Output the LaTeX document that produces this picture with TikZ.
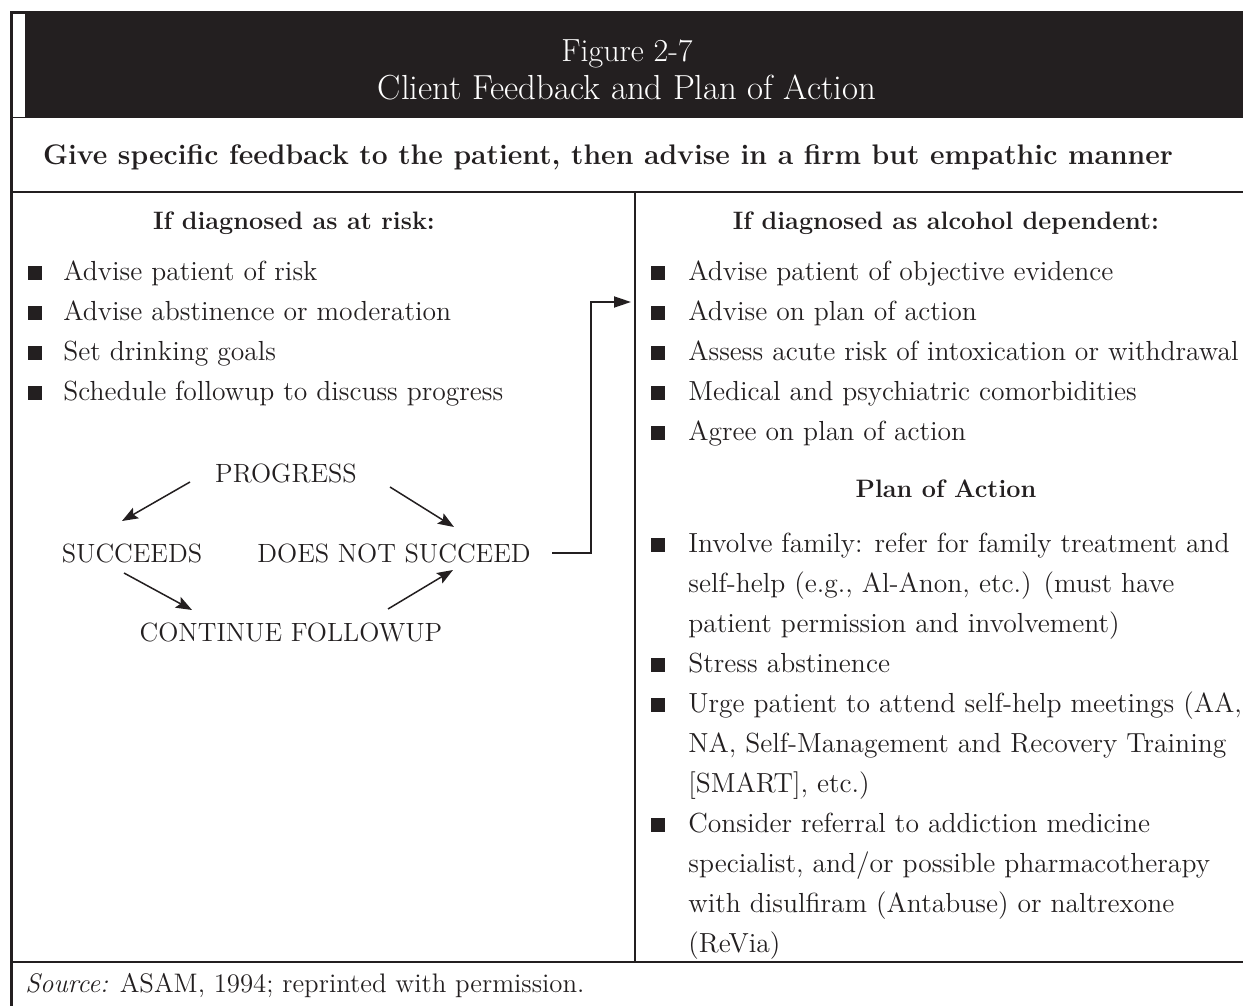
\documentclass[tikz,border=0pt]{standalone}
\usetikzlibrary{arrows.meta, positioning, calc}
\definecolor{ink}{HTML}{231F20}
\newcommand{\bodyfont}{\fontsize{13.8}{20}\selectfont}

\begin{document}
\begin{tikzpicture}[
		x=0.5pt, y=-0.5pt,
		>=Stealth,
		frameline/.style={draw=ink, line width=1.1pt},
		figtitle/.style={text=white, font=\fontsize{17.4}{20}\selectfont, inner sep=0pt, anchor=base},
		bandhead/.style={text=ink, font=\bfseries\fontsize{14.15}{20}\selectfont, inner sep=0pt, anchor=base},
		colhead/.style={text=ink, font=\bfseries\fontsize{12.6}{20}\selectfont, inner sep=0pt, anchor=base},
		bullettext/.style={text=ink, font=\bodyfont, inner sep=0pt, anchor=base west, align=left},
		longtext/.style={bullettext, anchor=north west},
		sq/.style={fill=ink, minimum size=7pt, inner sep=0pt, anchor=south},
		flow/.style={text=ink, font=\fontsize{13.2}{16}\selectfont, inner sep=2pt},
		arr/.style={-{Stealth[length=8pt, width=6pt, inset=1.5pt]}, draw=ink, line width=0.75pt},
		elb/.style={-{Triangle[length=8.5pt, width=5.5pt]}, draw=ink, line width=0.9pt},
	]
		\useasboundingbox (0,0) rectangle (1243,1006);

		% title band
		\fill[ink] (10,11) rectangle (1243,118);
		\fill[white] (13,14) rectangle (25,117);
		\node[figtitle, font=\fontsize{16}{20}\selectfont] (fig) at (627,62) {Figure 2-7};
		\node[figtitle] (ttl) at (627,100) {Client Feedback and Plan of Action};

		% table rules
		\draw[frameline] (11.5,118) -- (11.5,1006);
		\draw[frameline] (11.5,192) -- (1243,192);
		\draw[frameline] (635,192) -- (635,962);
		\draw[frameline] (11.5,962) -- (1243,962);

		\node[bandhead] (advice) at (608,164) {Give specific feedback to the patient, then advise in a firm but empathic manner};
		\node[colhead] (riskhd) at (294,229) {If diagnosed as at risk:};
		\node[colhead] (dephd) at (946,229) {If diagnosed as alcohol dependent:};

		% at risk column
		\foreach \txt [count=\i] in {Advise patient of risk, Advise abstinence or moderation,
			Set drinking goals, Schedule followup to discuss progress} {
			\node[sq] (lb\i) at (35,240+40*\i) {};
			\node[bullettext] (li\i) at (63,240+40*\i) {\txt};
		}

		% progress cycle
		\node[flow] (prog) at (286,473) {PROGRESS};
		\node[flow] (succ) at (132,553) {SUCCEEDS};
		\node[flow] (dns) at (394,553) {DOES NOT SUCCEED};
		\node[flow] (cont) at (291,632) {CONTINUE FOLLOWUP};

		\draw[arr] ([shift={(-96,9)}]prog.center) -- ([shift={(-10,-32)}]succ.center);
		\draw[arr] ([shift={(104,14)}]prog.center) -- ([shift={(60,-26)}]dns.center);
		\draw[arr] ([shift={(-8,20)}]succ.center) -- ([shift={(-99,-22)}]cont.center);
		\draw[arr] ([shift={(97,-23)}]cont.center) -- ([shift={(59,17)}]dns.center);

		% dependent column
		\coordinate (tgt) at (631,302);
		\draw[elb] ([shift={(158,0)}]dns.center) -- ++(39,0) |- (tgt);

		\foreach \txt [count=\i] in {Advise patient of objective evidence, Advise on plan of action,
			Assess acute risk of intoxication or withdrawal, Medical and psychiatric comorbidities,
			Agree on plan of action} {
			\node[sq] (rb\i) at (658,240+40*\i) {};
			\node[bullettext] (ri\i) at (688,240+40*\i) {\txt};
		}

		\node[colhead] (planhd) at (946,497) {Plan of Action};

		\node[sq] (pb1) at (658,552) {};
		\node[longtext] (pi1) at (688,524) {\strut Involve family: refer for family treatment and\\
			self-help (e.g., Al-Anon, etc.) (must have\\ patient permission and involvement)};
		\node[sq] (pb2) at (658,672) {};
		\node[bullettext] (pi2) at (688,672) {Stress abstinence};
		\node[sq] (pb3) at (658,712) {};
		\node[longtext] (pi3) at (688,684) {\strut Urge patient to attend self-help meetings (AA,\\
			NA, Self-Management and Recovery Training\\ {[SMART]}, etc.)};
		\node[sq] (pb4) at (658,832) {};
		\node[longtext] (pi4) at (688,804) {\strut Consider referral to addiction medicine\\
			specialist, and/or possible pharmacotherapy\\ with disulfiram (Antabuse) or naltrexone\\ (ReVia)};

		% source line
		\node[bullettext, font=\fontsize{13.4}{20}\selectfont] (src) at (25,992) {\textit{Source:} ASAM, 1994; reprinted with permission.};
	\end{tikzpicture}
\end{document}
